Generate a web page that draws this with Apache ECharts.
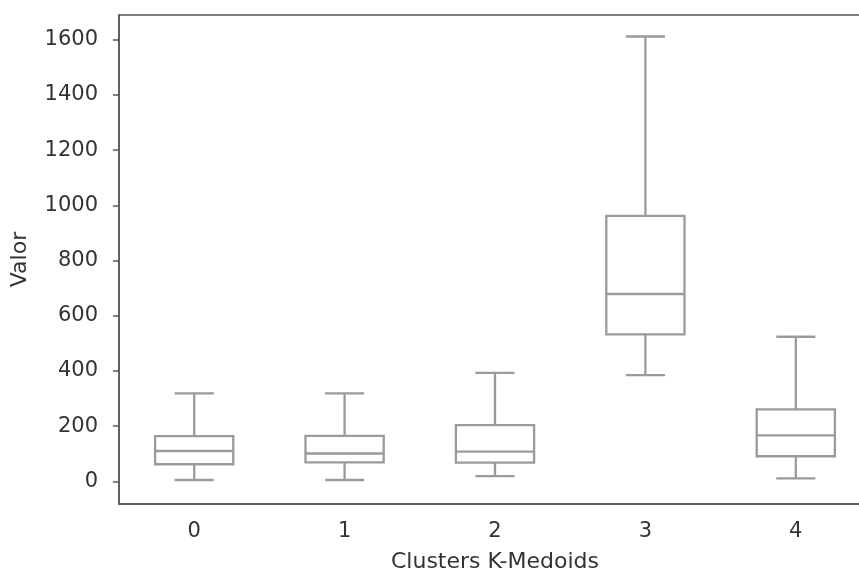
<!DOCTYPE html>
<html>
<head>
<meta charset="utf-8">
<script src="https://cdn.jsdelivr.net/npm/echarts@6/dist/echarts.min.js"></script>
<style>
  html, body { margin: 0; padding: 0; background: #fff; }
  #chart { width: 859px; height: 572px; }
</style>
</head>
<body>
<div id="chart"></div>
<script>
// clusters on the x axis
const clusters = ["0", "1", "2", "3", "4"];
// box stats: [min, q1, median, q3, max]
const lowWhisker = [5, 5, 19, 385, 11];
const q1Values = [62, 69, 68, 533, 91];
const medians = [110, 101, 108, 679, 167];
const q3Values = [164, 165, 204, 962, 261];
const highWhisker = [319, 319, 393, 1612, 524];
const yTicks = [0, 200, 400, 600, 800, 1000, 1200, 1400, 1600];

const boxData = clusters.map((c, i) => [i, lowWhisker[i], q1Values[i], medians[i], q3Values[i], highWhisker[i]]);

const chart = echarts.init(document.getElementById("chart"));

const lineColor = "#9a9a9a";
const spineColor = "#555";
const textColor = "#333";

function renderBox(params, api) {
    const i = api.value(0);
    const pMin = api.coord([i, api.value(1)]);
    const pQ1 = api.coord([i, api.value(2)]);
    const pMed = api.coord([i, api.value(3)]);
    const pQ3 = api.coord([i, api.value(4)]);
    const pMax = api.coord([i, api.value(5)]);
    const band = api.size([1, 0])[0];
    const bw = band * 0.52;
    const cap = bw / 2;
    const cx = pMed[0];
    const style = { stroke: lineColor, lineWidth: 2.3, fill: null };
    return {
        type: "group",
        children: [
            { type: "line", shape: { x1: cx, y1: pQ3[1], x2: cx, y2: pMax[1] }, style: style },
            { type: "line", shape: { x1: cx, y1: pQ1[1], x2: cx, y2: pMin[1] }, style: style },
            { type: "line", shape: { x1: cx - cap / 2, y1: pMax[1], x2: cx + cap / 2, y2: pMax[1] }, style: style },
            { type: "line", shape: { x1: cx - cap / 2, y1: pMin[1], x2: cx + cap / 2, y2: pMin[1] }, style: style },
            { type: "rect", shape: { x: cx - bw / 2, y: pQ3[1], width: bw, height: pQ1[1] - pQ3[1] }, style: { stroke: lineColor, lineWidth: 2.3, fill: "#fff" } },
            { type: "line", shape: { x1: cx - bw / 2, y1: pMed[1], x2: cx + bw / 2, y2: pMed[1] }, style: style }
        ]
    };
}

chart.setOption({
    animation: false,
    backgroundColor: "#fff",
    grid: {
        left: 119, top: 15, bottom: 68, right: -12,
        containLabel: false,
        outerBoundsMode: "none",
        show: true, borderColor: spineColor, borderWidth: 1.5
    },
    xAxis: {
        type: "category",
        data: clusters,
        name: "Clusters K-Medoids",
        nameLocation: "middle",
        nameGap: 47,
        nameTextStyle: { fontFamily: "DejaVu Sans", fontSize: 22, color: textColor },
        axisLine: { onZero: false, lineStyle: { color: spineColor, width: 1.5 } },
        axisTick: { alignWithLabel: true, length: 6, lineStyle: { color: spineColor, width: 1.5 } },
        axisLabel: { fontFamily: "DejaVu Sans", fontSize: 21, color: textColor, margin: 17 },
        splitLine: { show: false }
    },
    yAxis: {
        type: "value",
        min: -82,
        max: 1690,
        name: "Valor",
        nameLocation: "middle",
        nameGap: 88,
        nameTextStyle: { fontFamily: "DejaVu Sans", fontSize: 22, color: textColor },
        axisLine: { show: true, onZero: false, lineStyle: { color: spineColor, width: 1.5 } },
        axisTick: { show: true, length: 6, customValues: yTicks, lineStyle: { color: spineColor, width: 1.5 } },
        axisLabel: {
            fontFamily: "DejaVu Sans", fontSize: 21, color: textColor, margin: 21,
            customValues: yTicks,
            formatter: v => String(v)
        },
        splitLine: { show: false }
    },
    series: [{
        type: "custom",
        renderItem: renderBox,
        encode: { x: 0, y: [1, 2, 3, 4, 5] },
        data: boxData
    }]
});
</script>
</body>
</html>
